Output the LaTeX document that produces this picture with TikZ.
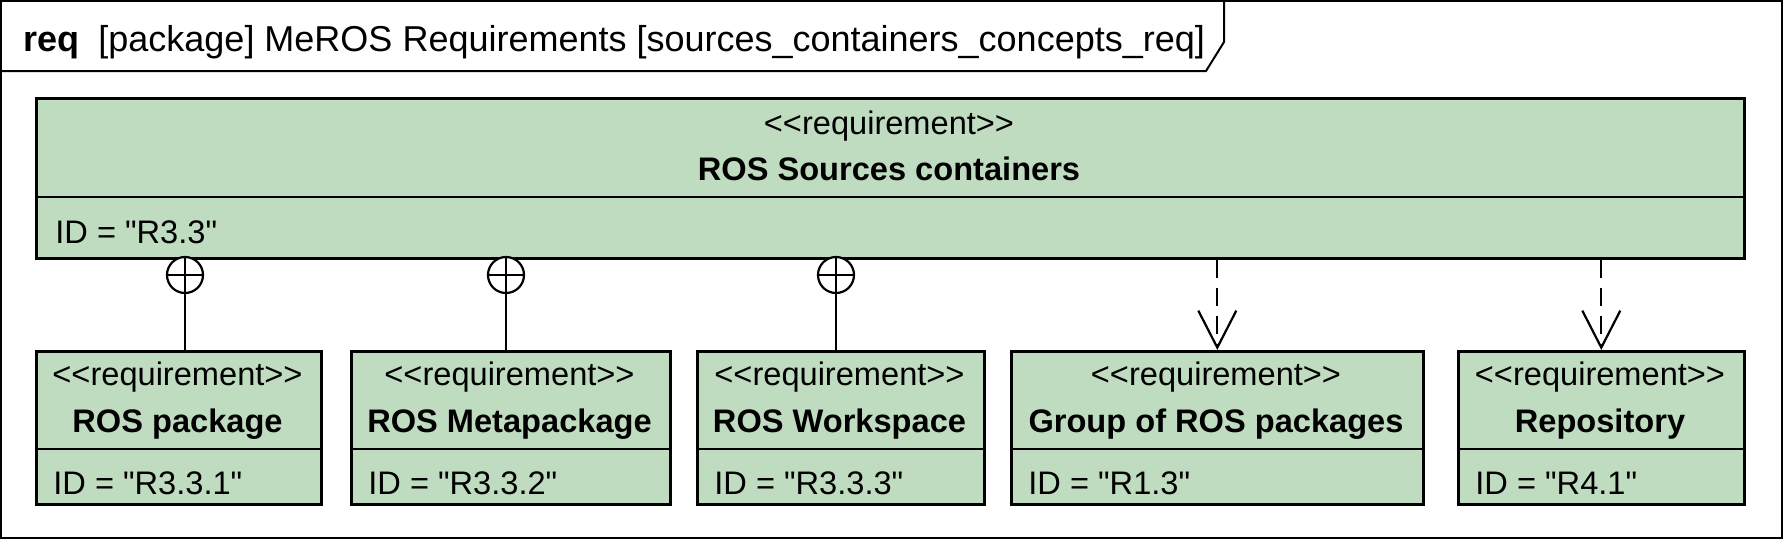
\documentclass[tikz,border=0pt]{standalone}
\usepackage{fontspec}
\setmainfont{Liberation Sans}[Ligatures=TeXOff]
\usetikzlibrary{arrows.meta}
\definecolor{reqgreen}{RGB}{192,220,192}
\tikzset{
  reqbox/.style={draw, fill=reqgreen, line width=1.3pt, inner sep=0pt, anchor=north west},
  reqtext/.style={inner sep=0pt, anchor=base, font=\fontsize{16.3pt}{19pt}\selectfont},
  contain/.style={circle, draw, fill=white, line width=1.1pt, minimum size=18pt, inner sep=0pt,
    path picture={\draw[line width=1.1pt] (path picture bounding box.north) -- (path picture bounding box.south)
      (path picture bounding box.west) -- (path picture bounding box.east);}},
  trace/.style={dash pattern=on 9pt off 5pt, line width=1.1pt, -{Straight Barb[length=18.5pt,width=19pt]}}
}
\begin{document}
\begin{tikzpicture}
        [x=0.5pt,y=-0.5pt]
        \useasboundingbox (0,0) rectangle (1785,543);
        % frame and its tab
        \draw[line width=1pt] (1,1) rectangle (1782,538);
        \draw[line width=1pt] (1,71) -- (1206,71) -- (1224,42) -- (1224,1);
        \node[inner sep=0pt, anchor=base west, font=\fontsize{18pt}{21pt}\selectfont] (title) at (23,51)
          {\textbf{req}\hspace{9.5pt}[package] MeROS Requirements [sources\_containers\_concepts\_req]};

        % main requirement
        \node[reqbox, minimum width=854pt, minimum height=80pt] (src) at (35,97) {};
        \draw[line width=1.3pt] (35,197) -- (1743,197);
        \node[reqtext] (src-st) at (889,134) {<<requirement>>};
        \node[reqtext] (src-name) at (889,180) {\textbf{ROS Sources containers}};
        \node[reqtext, anchor=base west] (src-id) at (55,243) {ID = "R3.3"};

        % sub requirements
        \foreach \n/\xa/\xb/\name/\id in {pkg/35/320/ROS package/R3.3.1,
            meta/350/669/ROS Metapackage/R3.3.2, ws/696/983/ROS Workspace/R3.3.3,
            grp/1010/1422/Group of ROS packages/R1.3, repo/1457/1743/Repository/R4.1}
        {
          \node[reqbox, minimum width={(\xb-\xa)*0.5pt}, minimum height=76.5pt] (\n) at (\xa,350) {};
          \draw[line width=1.3pt] (\xa,449) -- (\xb,449);
          \node[reqtext] (\n-st) at ({(\xa+\xb)/2},385) {<<requirement>>};
          \node[reqtext] (\n-name) at ({(\xa+\xb)/2},432) {\textbf{\name}};
          \node[reqtext, anchor=base west] (\n-id) at (\xa+18,494) {ID = "\id"};
        }

        % containment
        \node[contain] (c1) at (185,275) {};
        \node[contain] (c2) at (506,275) {};
        \node[contain] (c3) at (836,275) {};
        \draw[line width=1.1pt] (c1.south) -- (c1 |- pkg.north);
        \draw[line width=1.1pt] (c2.south) -- (c2 |- meta.north);
        \draw[line width=1.1pt] (c3.south) -- (c3 |- ws.north);

        % trace
        \draw[trace] (src.south -| grp.north) -- (grp.north);
        \draw[trace] (src.south -| repo.north) -- (repo.north);
      \end{tikzpicture}
\end{document}
